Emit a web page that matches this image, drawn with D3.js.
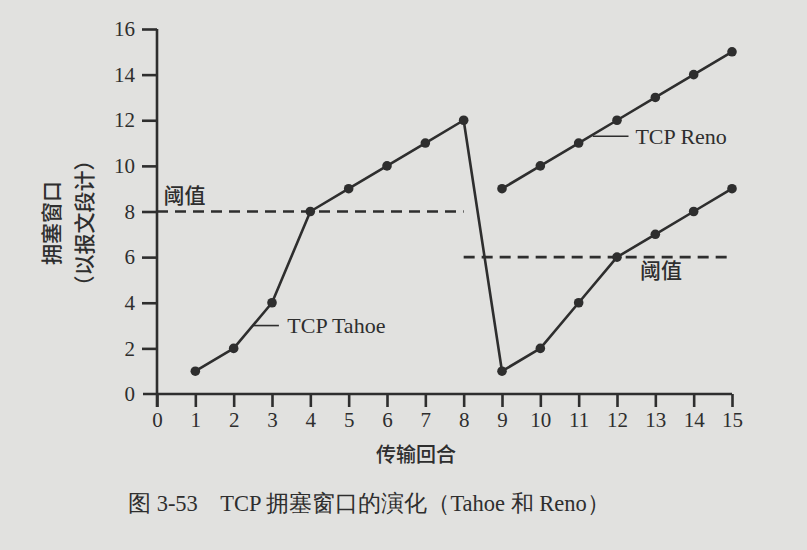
<!DOCTYPE html>
<html><head><meta charset="utf-8">
<script src="https://cdn.jsdelivr.net/npm/d3@7"></script>
<style>
html,body{margin:0;padding:0;background:#e1e1df;}
svg{display:block;}
</style></head>
<body><svg id="c" width="807" height="550"></svg>
<script>
const rounds = [1,2,3,4,5,6,7,8,9,10,11,12,13,14,15];
const tahoe = [1,2,4,8,9,10,11,12,1,2,4,6,7,8,9];
const renoRounds = [9,10,11,12,13,14,15];
const reno = [9,10,11,12,13,14,15];
const thresholds = [{from:0,to:8,value:8},{from:8,to:15,value:6}];
const xTicks = [0,1,2,3,4,5,6,7,8,9,10,11,12,13,14,15];
const yTicks = [0,2,4,6,8,10,12,14,16];
const labels = {tahoe:"TCP Tahoe", reno:"TCP Reno", threshold:"阈值", xTitle:"传输回合", yTitle1:"拥塞窗口", yTitle2:"（以报文段计）", caption:"图 3-53\u00a0\u00a0\u00a0\u00a0TCP 拥塞窗口的演化（Tahoe 和 Reno）"};

const ink = "#2e2e2e";
const svg = d3.select("#c");
const x = d3.scaleLinear().domain([0,15]).range([157,732]);
const y = d3.scaleLinear().domain([0,16]).range([394,29]);
const serif = "'Liberation Serif','Times New Roman',serif";
const cjk = "'Noto Sans CJK SC','Noto Sans',sans-serif";

// axes
const xAxis = d3.axisBottom(x).tickValues(xTicks).tickSize(13).tickPadding(5).tickFormat(d3.format("d"));
const gx = svg.append("g").attr("transform",`translate(0,${y(0)})`).call(xAxis);
gx.select(".domain").attr("d",`M${x(0)-14},0H${x(15)}`);
const yAxis = d3.axisLeft(y).tickValues(yTicks).tickSize(15).tickPadding(7);
const gy = svg.append("g").attr("transform",`translate(${x(0)},0)`).call(yAxis);
gy.select(".domain").attr("d",`M0,${y(16)}V${y(0)+13}`);
[gx,gy].forEach(g=>{
  g.selectAll(".domain").attr("stroke",ink).attr("stroke-width",2.6).attr("fill","none");
  g.selectAll(".tick line").attr("stroke",ink).attr("stroke-width",2.6);
  g.selectAll(".tick text").attr("fill",ink).attr("font-family",serif).attr("font-size",21);
});
gy.selectAll(".tick").filter(d=>d===0).select("line").remove();

// thresholds
svg.append("g").selectAll("line").data(thresholds).join("line")
  .attr("x1",d=>x(d.from)).attr("x2",d=>x(d.to))
  .attr("y1",d=>y(d.value)).attr("y2",d=>y(d.value))
  .attr("stroke",ink).attr("stroke-width",2.6).attr("stroke-dasharray","11,7");

// series
const line = d3.line().x(d=>x(d[0])).y(d=>y(d[1]));
const tData = rounds.map((r,i)=>[r,tahoe[i]]);
const rData = renoRounds.map((r,i)=>[r,reno[i]]);
[tData,rData].forEach(data=>{
  svg.append("path").datum(data).attr("d",line).attr("fill","none")
    .attr("stroke",ink).attr("stroke-width",2.6).attr("stroke-linejoin","round");
  svg.append("g").selectAll("circle").data(data).join("circle")
    .attr("cx",d=>x(d[0])).attr("cy",d=>y(d[1])).attr("r",4.8).attr("fill",ink);
});

// annotations
svg.append("line").attr("x1",x(2.5)).attr("x2",x(3.18)).attr("y1",y(3)).attr("y2",y(3)).attr("stroke",ink).attr("stroke-width",1.6);
svg.append("text").attr("x",x(3.4)).attr("y",y(3)).attr("dy","0.35em").attr("font-family",serif).attr("font-size",22).attr("fill",ink).text(labels.tahoe);
svg.append("line").attr("x1",x(11.37)).attr("x2",x(12.3)).attr("y1",y(11.3)).attr("y2",y(11.3)).attr("stroke",ink).attr("stroke-width",1.6);
svg.append("text").attr("x",x(12.48)).attr("y",y(11.3)).attr("dy","0.35em").attr("font-family",serif).attr("font-size",22).attr("fill",ink).text(labels.reno);

svg.append("text").attr("x",x(0.17)).attr("y",y(8.7)).attr("dy","0.35em").attr("font-family",cjk).attr("font-weight",500).attr("font-size",21).attr("fill",ink).text(labels.threshold);
svg.append("text").attr("x",x(12.6)).attr("y",y(5.4)).attr("dy","0.35em").attr("font-family",cjk).attr("font-weight",500).attr("font-size",21).attr("fill",ink).text(labels.threshold);

// axis titles
svg.append("text").attr("transform",`translate(52,${y(7.5)}) rotate(-90)`).attr("text-anchor","middle").attr("dy","0.35em")
  .attr("font-family",cjk).attr("font-weight",500).attr("font-size",21).attr("fill",ink).text(labels.yTitle1);
svg.append("text").attr("transform",`translate(85,${y(7.5)}) rotate(-90)`).attr("text-anchor","middle").attr("dy","0.35em")
  .attr("font-family",cjk).attr("font-weight",500).attr("font-size",21).attr("fill",ink).text(labels.yTitle2);
svg.append("text").attr("x",416).attr("y",455).attr("text-anchor","middle").attr("dy","0.35em")
  .attr("font-family",cjk).attr("font-weight",500).attr("font-size",20).attr("fill",ink).text(labels.xTitle);
svg.append("text").attr("x",128).attr("y",503).attr("dy","0.35em")
  .attr("font-family",serif).attr("font-size",22.5).attr("fill",ink).text(labels.caption);
</script></body></html>
